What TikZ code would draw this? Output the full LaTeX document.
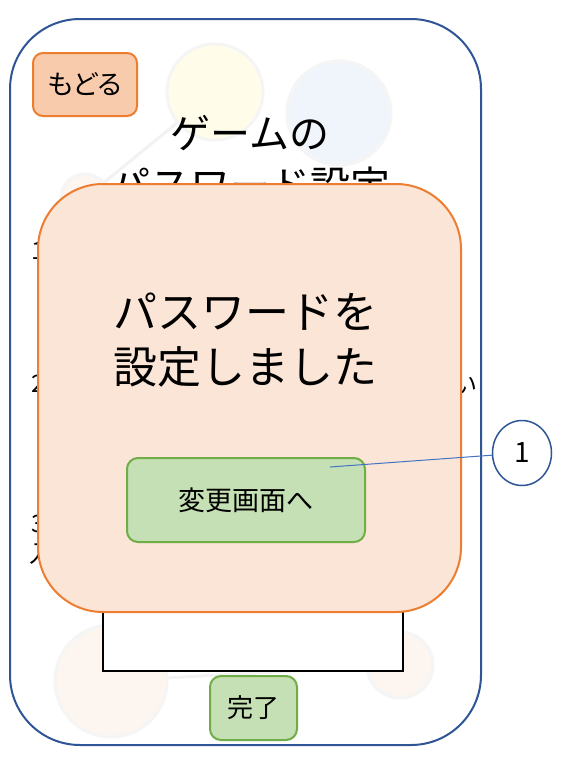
\documentclass[tikz,border=0pt]{standalone}
\usepackage{fontspec}
\setmainfont{Noto Sans CJK JP}
\newfontfamily\paltfont[RawFeature=+palt]{Noto Sans CJK JP}
\usetikzlibrary{shapes, positioning}

\definecolor{frameblue}{HTML}{2F5597}
\definecolor{lineblue}{HTML}{4472C4}
\definecolor{orangeline}{HTML}{ED7D31}
\definecolor{orangefill}{HTML}{F8CBAD}
\definecolor{popupfill}{HTML}{FBE5D6}
\definecolor{greenline}{HTML}{70AD47}
\definecolor{greenfill}{HTML}{C5E0B4}
\definecolor{paleyellow}{HTML}{FFFDEA}
\definecolor{paleblue}{HTML}{F0F5FC}
\definecolor{palepeach}{HTML}{FDF5EF}

\tikzset{
  phone/.style={draw=frameblue, fill=white, line width=2pt, rounded corners=70pt,
    minimum width=471pt, minimum height=726pt, inner sep=0pt},
  backbtn/.style={draw=orangeline, fill=orangefill, line width=2pt, rounded corners=10pt,
    minimum width=104pt, minimum height=63pt, inner sep=0pt},
  okbtn/.style={draw=greenline, fill=greenfill, line width=2pt, rounded corners=11pt, inner sep=0pt},
  popup/.style={draw=orangeline, fill=popupfill, line width=2pt, rounded corners=65pt,
    minimum width=423pt, minimum height=428pt, inner sep=0pt},
  inputbox/.style={draw=black, fill=white, line width=2.5pt,
    minimum width=300pt, minimum height=112pt, inner sep=0pt},
  callout/.style={ellipse, draw=frameblue, fill=white, line width=1.5pt,
    minimum width=59pt, minimum height=65pt, inner sep=0pt, font=\fontsize{28}{32}\selectfont},
  bubble/.style={circle, draw=black!4, line width=3pt, inner sep=0pt},
  link/.style={draw=black!5, line width=3pt},
  pointer/.style={draw=lineblue, line width=1pt},
  hint/.style={inner sep=0pt, font=\fontsize{24}{28}\selectfont}
}

\begin{document}
\begin{tikzpicture}[x=1pt, y=-1pt]
      \useasboundingbox (0,0) rectangle (578,763);

      % Nodes
      \node[phone] (phone) at (245.5, 382) {};

      \node[bubble, fill=palepeach, minimum size=48pt] (dotA) at (85, 198) {};
      \node[bubble, fill=paleyellow, minimum size=96pt] (dotB) at (215, 92) {};
      \node[bubble, fill=paleblue, minimum size=104pt] (dotC) at (339, 113) {};
      \node[bubble, fill=palepeach, minimum size=112pt] (dotD) at (111, 681) {};
      \node[bubble, fill=palepeach, minimum size=66pt] (dotE) at (400, 665) {};
      \path[link] (dotA) edge (dotB)
                  (dotD) edge (dotE);

      \node[backbtn, font=\paltfont\fontsize{27}{30}\selectfont] (back) at (85, 84.5) {もどる};
      \node[align=center, inner sep=0pt, font=\fontsize{40}{52}\selectfont] (title) at (250, 160)
           {ゲームの\\パスワード設定};

      \node[hint, anchor=west] (one) at (31, 251) {1};
      \node[hint, anchor=west] (two) at (31, 384) {2};
      \node[hint, anchor=west] (three) at (31, 524) {3};
      \node[hint, anchor=west] (enter) at (29, 554) {入};
      \node[hint] (tail) at (465, 385) {い};

      \node[inputbox] (input) at (253, 615) {};
      \node[okbtn, minimum width=87pt, minimum height=64pt,
            font=\fontsize{26}{30}\selectfont] (done) at (253.5, 708) {完了};

      \node[popup] (popup) at (249.5, 398) {};
      \node[align=left, inner sep=0pt, font=\fontsize{44}{55}\selectfont] (msg) at (245, 340)
           {パスワードを\\設定しました};
      \node[okbtn, minimum width=238pt, minimum height=84pt,
            font=\fontsize{27}{30}\selectfont] (change) at (246, 500) {変更画面へ};

      \coordinate (tip) at (330, 467);
      \node[callout] (mark) at (522, 453) {1};

      % Edges
      \path[pointer] (tip) edge (mark);

\end{tikzpicture}
\end{document}
